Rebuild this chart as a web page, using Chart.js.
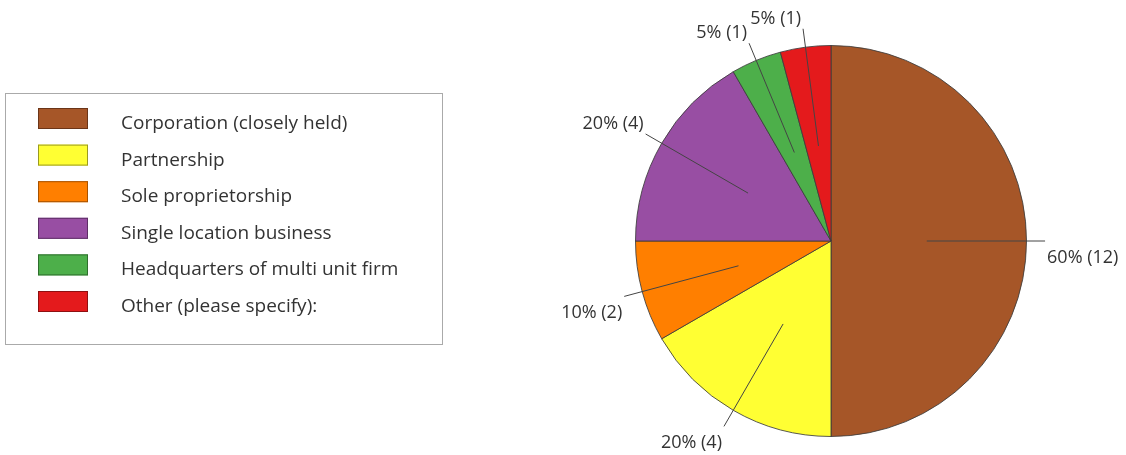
<!DOCTYPE html>
<html>
<head>
<meta charset="utf-8">
<script src="https://cdn.jsdelivr.net/npm/chart.js@4"></script>
<style>
  html, body { margin: 0; padding: 0; background: #fff; }
  canvas { display: block; }
</style>
</head>
<body>
<canvas id="chart" width="1126" height="455"></canvas>
<script>
// survey answers
const categories = [
  "Corporation (closely held)",
  "Partnership",
  "Sole proprietorship",
  "Single location business",
  "Headquarters of multi unit firm",
  "Other (please specify):"
];
const counts = [12, 4, 2, 4, 1, 1];
const percents = [60, 20, 10, 20, 5, 5];

const sliceColors = ["#a65628", "#ffff33", "#ff7f00", "#984ea3", "#4daf4a", "#e41a1c"];
const edgeColors = ["#6b3518", "#9a9a20", "#a65200", "#5e2f66", "#2f6e2d", "#8e1011"];

const FONT = "'Open Sans', sans-serif";
const TEXT = "#333";

// labels with leader lines, drawn after the slices
let leaderLabels = {
  id: "leaderLabels",
  afterDatasetsDraw(chart) {
    let ctx = chart.ctx;
    let arcs = chart.getDatasetMeta(0).data;
    ctx.save();
    ctx.font = "18px " + FONT;
    arcs.forEach((arc, i) => {
      let {x, y, startAngle, endAngle, outerRadius} = arc.getProps(["x", "y", "startAngle", "endAngle", "outerRadius"], true);
      let mid = (startAngle + endAngle) / 2;
      let r1 = outerRadius * 0.49, r2 = outerRadius * 1.095;
      let x1 = x + Math.cos(mid) * r1, y1 = y + Math.sin(mid) * r1;
      let x2 = x + Math.cos(mid) * r2, y2 = y + Math.sin(mid) * r2;
      ctx.strokeStyle = "#444";
      ctx.lineWidth = 1;
      ctx.beginPath();
      ctx.moveTo(x1, y1);
      ctx.lineTo(x2, y2);
      ctx.stroke();

      let text = percents[i] + "% (" + counts[i] + ")";
      let right = x2 > x + 1;
      ctx.fillStyle = TEXT;
      ctx.textBaseline = "alphabetic";
      ctx.textAlign = right ? "left" : "right";
      let tx = right ? x2 + 2 : x2 - 2;
      let ty = y2 < y - 1 ? y2 - 5 : y2 + 22;
      ctx.fillText(text, tx, ty);
    });
    ctx.restore();
  }
};

// boxed legend on the left
let boxLegend = {
  id: "boxLegend",
  afterDraw(chart) {
    let ctx = chart.ctx;
    ctx.save();
    ctx.strokeStyle = "#aaa";
    ctx.lineWidth = 1;
    ctx.strokeRect(5.5, 93.5, 437, 251);
    ctx.font = "19px " + FONT;
    ctx.textBaseline = "alphabetic";
    ctx.textAlign = "left";
    chart.data.labels.forEach((label, i) => {
      let top = 108 + i * 36.6;
      ctx.fillStyle = sliceColors[i];
      ctx.fillRect(38, top, 50, 21);
      ctx.strokeStyle = edgeColors[i];
      ctx.strokeRect(38.5, top + 0.5, 49, 20);
      ctx.fillStyle = TEXT;
      ctx.fillText(label, 121, top + 21);
    });
    ctx.restore();
  }
};

new Chart(document.getElementById("chart"), {
  type: "pie",
  data: {
    labels: categories,
    datasets: [{
      data: counts,
      backgroundColor: sliceColors,
      borderColor: "rgba(60,60,60,0.85)",
      borderWidth: 1
    }]
  },
  options: {
    responsive: false,
    devicePixelRatio: 1,
    animation: false,
    layout: {
      padding: {left: 635, right: 99, top: 45, bottom: 18}
    },
    plugins: {
      legend: {display: false},
      tooltip: {enabled: false}
    }
  },
  plugins: [leaderLabels, boxLegend]
});
</script>
</body>
</html>
